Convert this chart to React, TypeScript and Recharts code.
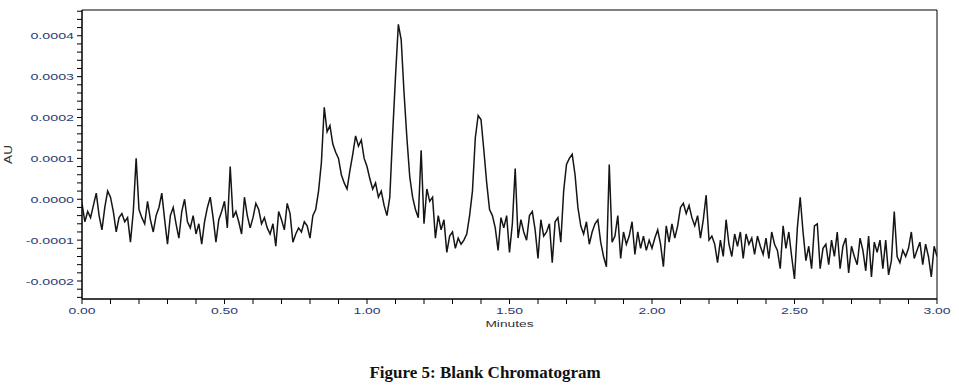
import { LineChart, Line, XAxis, YAxis, ReferenceArea } from "recharts";

// Absorbance, in micro-AU (1e-6 AU), one sample per 0.01 min.
// Split into half-minute segments.
const SEG_0_00 = [
  -10, -55, -30, -45, -15, 15, -40, -75, -20, 20,
  5, -30, -80, -45, -35, -55, -45, -105, -30, 100,
  -25, -45, -60, -5, -50, -80, -40, -20, 15, -50,
  -110, -40, -20, -60, -95, -30, 0, -55, -70, -40,
  -85, -60, -110, -55, -20, 5, -45, -105, -50, -30,
];
const SEG_0_50 = [
  -5, -70, 80, -45, -30, -55, -85, 5, -40, -70,
  -45, -10, -25, -60, -45, -70, -85, -60, -115, -30,
  -50, -75, -10, -35, -105, -85, -70, -80, -55, -65,
  -95, -40, -25, 20, 90, 225, 165, 180, 135, 115,
  100, 60, 40, 25, 70, 110, 155, 130, 145, 100,
];
const SEG_1_00 = [
  80, 50, 25, 40, 5, 20, -15, -40, 5, 160,
  300, 428, 390, 260, 150, 55, 5, -25, -45, 120,
  -60, 25, -5, 5, -95, -40, -75, -50, -130, -90,
  -80, -120, -95, -110, -100, -85, -40, 20, 150, 205,
  195, 120, 40, -25, -40, -70, -125, -45, -70, -40,
];
const SEG_1_50 = [
  -130, -60, 75, -95, -50, -80, -100, -40, -30, -75,
  -145, -50, -90, -80, -60, -155, -55, -45, -105, 20,
  85, 100, 110, 60, -20, -65, -85, -55, -110, -80,
  -60, -50, -105, -140, -165, 85, -105, -90, -40, -145,
  -80, -110, -90, -55, -135, -80, -120, -90, -125, -100,
];
const SEG_2_00 = [
  -120, -95, -75, -110, -165, -65, -105, -60, -95, -65,
  -20, -10, -35, -15, -45, -65, -40, -95, -50, 10,
  -100, -90, -110, -155, -100, -140, -50, -110, -140, -85,
  -115, -80, -145, -85, -110, -95, -135, -90, -115, -135,
  -95, -145, -80, -110, -125, -170, -65, -120, -80, -140,
];
const SEG_2_50 = [
  -195, -70, 5, -80, -150, -115, -170, -65, -60, -170,
  -120, -110, -160, -100, -140, -80, -170, -115, -95, -180,
  -115, -140, -160, -95, -125, -175, -90, -190, -105, -130,
  -100, -170, -100, -185, -150, -30, -140, -155, -125, -140,
  -120, -80, -145, -125, -105, -160, -110, -140, -190, -115,
  -140,
];

const SEGMENTS = [SEG_0_00, SEG_0_50, SEG_1_00, SEG_1_50, SEG_2_00, SEG_2_50];
const SAMPLES_PER_MIN = 100;

const X_TICKS = [
  0, 0.1, 0.2, 0.3, 0.4, 0.5, 0.6, 0.7, 0.8, 0.9,
  1, 1.1, 1.2, 1.3, 1.4, 1.5, 1.6, 1.7, 1.8, 1.9,
  2, 2.1, 2.2, 2.3, 2.4, 2.5, 2.6, 2.7, 2.8, 2.9, 3,
];
const X_LABELED = [0, 0.5, 1, 1.5, 2, 2.5, 3];
const Y_TICKS = [
  -240, -220, -200, -180, -160, -140, -120, -100, -80, -60, -40, -20,
  0, 20, 40, 60, 80, 100, 120, 140, 160, 180, 200, 220, 240, 260, 280,
  300, 320, 340, 360, 380, 400, 420, 440, 460,
];
const Y_DOMAIN: [number, number] = [-244, 463];

const data = SEGMENTS.flat().map((v, i) => ({ t: i / SAMPLES_PER_MIN, v }));

const LABEL_COLOR = "#2a3a70";
const FONT = "Arial, 'Liberation Sans', sans-serif";

function XTick({ x, y, payload }: any) {
  const v = payload.value as number;
  if (!X_LABELED.some((l) => Math.abs(l - v) < 1e-9)) return null;
  return (
    <g transform={`translate(${x},${y + 8}) scale(1.55,1)`}>
      <text textAnchor="middle" fontSize={9} fontFamily={FONT} fill={LABEL_COLOR}>
        {v.toFixed(2)}
      </text>
    </g>
  );
}

function YTick({ x, y, payload }: any) {
  const v = payload.value as number;
  if (v % 100 !== 0) return null;
  return (
    <g transform={`translate(${x},${y + 3.5}) scale(1.5,1)`}>
      <text textAnchor="end" fontSize={9.5} fontFamily={FONT} fill={LABEL_COLOR}>
        {(v / 1e6).toFixed(4)}
      </text>
    </g>
  );
}

function MinutesLabel(props: any) {
  const vb = props.viewBox || { x: 82, y: 299, width: 855, height: 40 };
  return (
    <g transform={`translate(${vb.x + vb.width / 2},${vb.y + 28}) scale(1.45,1)`}>
      <text textAnchor="middle" fontSize={9.5} fontFamily={FONT} fill="#333">
        Minutes
      </text>
    </g>
  );
}

function AULabel(props: any) {
  const vb = props.viewBox || { x: 0, y: 10, width: 82, height: 289 };
  return (
    <g transform={`translate(${vb.x + 12},${vb.y + vb.height / 2}) rotate(-90) scale(1.3,1)`}>
      <text textAnchor="middle" fontSize={10.5} fontFamily={FONT} fill="#333">
        AU
      </text>
    </g>
  );
}

export default function App() {
  return (
    <div style={{ position: "absolute", left: 0, top: 0, width: 959, height: 389, background: "#fff" }}>
      <LineChart
        width={959}
        height={389}
        data={data}
        margin={{ top: 10, right: 22, bottom: 50, left: 0 }}
      >
        <XAxis
          dataKey="t"
          type="number"
          domain={[0, 3]}
          ticks={X_TICKS}
          interval={0}
          allowDataOverflow
          height={40}
          tickSize={5}
          tickMargin={2}
          tick={<XTick />}
          axisLine={{ stroke: "#000" }}
          tickLine={{ stroke: "#000" }}
          label={{ content: MinutesLabel }}
        />
        <YAxis
          type="number"
          domain={Y_DOMAIN}
          ticks={Y_TICKS}
          interval={0}
          allowDataOverflow
          width={82}
          tickSize={5}
          tickMargin={3}
          tick={<YTick />}
          axisLine={{ stroke: "#000" }}
          tickLine={{ stroke: "#000" }}
          label={{ content: AULabel }}
        />
        <ReferenceArea
          x1={0}
          x2={3}
          y1={Y_DOMAIN[0]}
          y2={Y_DOMAIN[1]}
          fill="none"
          stroke="#000"
          strokeWidth={1}
        />
        <Line
          type="linear"
          dataKey="v"
          stroke="#151515"
          strokeWidth={1.5}
          dot={false}
          isAnimationActive={false}
        />
      </LineChart>
      <div
        style={{
          position: "absolute",
          left: 485,
          top: 364,
          transform: "translateX(-50%)",
          whiteSpace: "nowrap",
          fontFamily: "'Times New Roman', 'Liberation Serif', serif",
          fontWeight: "bold",
          fontSize: 17,
          lineHeight: "17px",
          color: "#111",
        }}
      >
        Figure 5: Blank Chromatogram
      </div>
    </div>
  );
}
